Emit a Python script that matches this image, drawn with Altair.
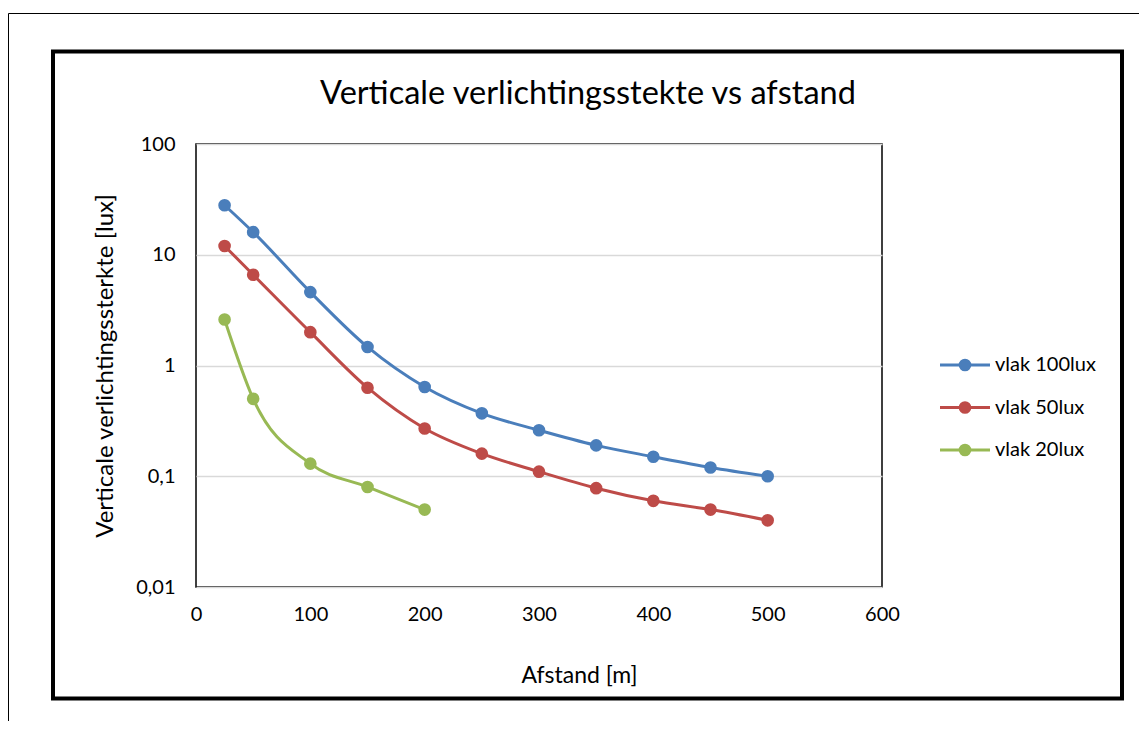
import altair as alt
import pandas as pd

# ---- data ----
afstand = [25, 50, 100, 150, 200, 250, 300, 350, 400, 450, 500]
vlak_100 = [28, 16, 4.6, 1.47, 0.64, 0.37, 0.26, 0.19, 0.15, 0.12, 0.1]
vlak_50 = [12, 6.6, 2.0, 0.63, 0.27, 0.16, 0.11, 0.078, 0.06, 0.05, 0.04]
afstand_20 = [25, 50, 100, 150, 200]
vlak_20 = [2.6, 0.5, 0.13, 0.08, 0.05]

series_names = ["vlak 100lux", "vlak 50lux", "vlak 20lux"]
series_colors = ["#4A7EBB", "#BE4B48", "#98B954"]
y_ticks = [0.01, 0.1, 1, 10, 100]
x_ticks = [0, 100, 200, 300, 400, 500, 600]

rows = []
for xs, ys, name in [(afstand, vlak_100, series_names[0]),
                     (afstand, vlak_50, series_names[1]),
                     (afstand_20, vlak_20, series_names[2])]:
    for a, b in zip(xs, ys):
        rows.append({"afstand": a, "waarde": b, "serie": name})
df = pd.DataFrame(rows)

FONT = "Lato"
W, H = 686, 443

color = alt.Color("serie:N", scale=alt.Scale(domain=series_names, range=series_colors), legend=None)

x_enc = alt.X("afstand:Q",
              scale=alt.Scale(domain=[0, 600], nice=False),
              axis=alt.Axis(values=x_ticks, grid=False, ticks=False, domain=False,
                            labelFlush=False, labelOverlap=False,
                            labelFontSize=20, labelFont=FONT, labelColor="#000000",
                            labelPadding=17, title="Afstand [m]", titleFont=FONT,
                            titleFontSize=23, titleFontWeight="normal", titleColor="#000000",
                            titleX=383, titleY=88, titleBaseline="middle"))
y_enc = alt.Y("waarde:Q",
              scale=alt.Scale(type="log", domain=[0.01, 100], nice=False),
              axis=alt.Axis(values=y_ticks, grid=True, gridColor="#D9D9D9", gridWidth=1.5,
                            ticks=False, domain=False, labelFlush=False, labelOverlap=False,
                            labelExpr="replace(format(datum.value, '~g'), '.', ',')",
                            labelFontSize=20, labelFont=FONT, labelColor="#000000",
                            labelPadding=21, title="Verticale verlichtingssterkte [lux]",
                            titleFont=FONT, titleFontSize=24, titleFontWeight="normal",
                            titleColor="#000000", titlePadding=18))

base = alt.Chart(df)
lines = base.mark_line(interpolate="monotone", strokeWidth=3).encode(
    x=x_enc, y=y_enc, color=color, detail="serie:N")
points = base.mark_circle(size=160, opacity=1).encode(
    x="afstand:Q", y="waarde:Q", color=color)

title = alt.Chart(pd.DataFrame({"t": ["Verticale verlichtingsstekte vs afstand"]})).mark_text(
    font=FONT, fontSize=32.5, align="center", baseline="middle", color="#000000"
).encode(text="t:N", x=alt.value(392), y=alt.value(-50))

frame_df = pd.DataFrame({"k": [0]})
thick_frame = alt.Chart(frame_df).mark_rect(
    fill=None, fillOpacity=0, stroke="#000000", strokeWidth=4, clip=False
).encode(x=alt.value(-143), x2=alt.value(926), y=alt.value(-92.5), y2=alt.value(554.5))
thin_frame = alt.Chart(frame_df).mark_rect(
    fill=None, fillOpacity=0, stroke="#000000", strokeWidth=1, clip=False
).encode(x=alt.value(-187.5), x2=alt.value(1100), y=alt.value(-130.5), y2=alt.value(700))

legend_layers = []
for i, (name, col) in enumerate(zip(series_names, series_colors)):
    ly = 221 + 42.5 * i
    ldf = pd.DataFrame({"serie": [name]})
    legend_layers.append(alt.Chart(ldf).mark_rule(strokeWidth=3, color=col).encode(
        x=alt.value(744), x2=alt.value(794), y=alt.value(ly)))
    legend_layers.append(alt.Chart(ldf).mark_circle(size=160, opacity=1, color=col).encode(
        x=alt.value(769), y=alt.value(ly)))
    legend_layers.append(alt.Chart(ldf).mark_text(
        font=FONT, fontSize=20, align="left", baseline="middle", color="#000000").encode(
        text="serie:N", x=alt.value(799), y=alt.value(ly)))

chart = alt.layer(thin_frame, thick_frame, lines, points, title, *legend_layers).properties(
    width=W, height=H,
    autosize=alt.AutoSizeParams(type="none"),
    padding={"left": 188, "top": 136, "right": 257, "bottom": 134},
    background="#FFFFFF",
).configure_view(stroke="#000000", strokeWidth=1.5)

chart.save("out.html", embed_options={"renderer": "svg", "actions": False})
